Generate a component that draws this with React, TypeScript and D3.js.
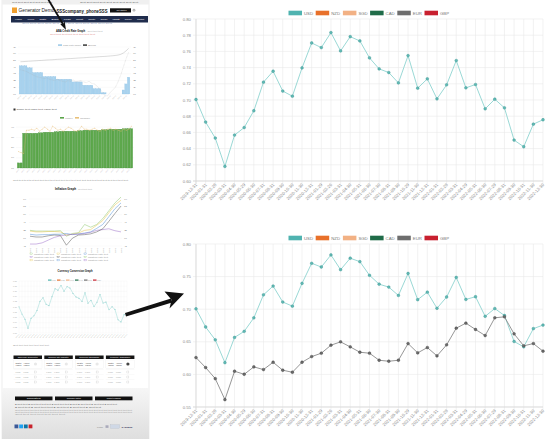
import React from "react";
import * as d3 from "d3";

const dates = [
  "2019-12-31","2020-01-31","2020-02-28","2020-03-31","2020-04-30","2020-05-29","2020-06-30",
  "2020-07-31","2020-08-31","2020-09-30","2020-10-30","2020-11-30","2020-12-31","2021-01-29",
  "2021-02-26","2021-03-31","2021-04-30","2021-05-31","2021-06-30","2021-07-30","2021-08-31",
  "2021-09-30","2021-10-29","2021-11-30","2021-12-31","2022-01-31","2022-02-28","2022-03-31",
  "2022-04-29","2022-05-31","2022-06-30","2022-07-29","2022-08-31","2022-09-30","2022-10-31",
  "2022-11-30","2022-12-30",
];
const usd = [
  0.7006,0.6727,0.653,0.618,0.6567,0.666,0.6867,0.722,0.7355,0.711,0.7047,0.7396,0.7704,
  0.7647,0.7832,0.7606,0.7782,0.7729,0.752,0.7384,0.7339,0.7211,0.7548,0.7146,0.7261,
  0.7014,0.7187,0.7487,0.715,0.7191,0.6891,0.701,0.6903,0.6505,0.6423,0.6702,0.6756,
];
const eur = [
  0.6258,0.6105,0.5935,0.5613,0.6048,0.6002,0.6115,0.6074,0.6186,0.6064,0.6033,0.6186,0.6273,
  0.6325,0.6448,0.6499,0.6422,0.634,0.6325,0.6217,0.6202,0.6217,0.6473,0.633,0.6412,
  0.6284,0.6453,0.6709,0.6786,0.6689,0.6596,0.6868,0.6883,0.6622,0.6438,0.6473,0.6356,
];
const legendLabels = ["USD", "NZD", "SGD", "CAD", "EUR", "GBP"];
const legendColors = ["#4fb3b0", "#e8702a", "#f2b184", "#1f6b48", "#6e6e6e", "#c8202f"];
const topTicks = [0.6, 0.62, 0.64, 0.66, 0.68, 0.7, 0.72, 0.74, 0.76, 0.78, 0.8];
const bottomTicks = [0.55, 0.6, 0.65, 0.7, 0.75, 0.8];

// thumbnail (web page screenshot) data
const abaBars = [4.2,4.2,4.2,3.9,3.9,3.2,3.2,3.2,3.2,2.6,2.6,2.6,2.6,2.6,2.2,2.2,2.2,2.2,2.2,2.2,1.8,1.8,1.8,1.8,1.3,1.3,1.3,1.3,0.8,0.8,0.8,0.2,0.2,0,0,0,0,0,0,0.6,1.5,2.5];
const abaLine = [4.8,4.82,4.85,4.88,4.9,4.93,4.95,4.98,5.0,5.03,5.06,5.08,5.1,5.13,5.16,5.18,5.2,5.23,5.26,5.28,5.3,5.33,5.36,5.38,5.4,5.43,5.46,5.48,5.5,5.53,5.56,5.58,5.6,5.63,5.66,5.7,5.74,5.8,5.9,6.1,6.4,6.8];
const abaLine2 = [3.6,3.5,3.4,3.2,3.0,2.8,2.6,2.5,2.4,2.3,2.4,2.2,2.1,2.0,2.2,2.0,1.9,1.8,2.0,1.9,2.1,1.8,1.9,2.0,1.8,1.7,1.9,1.6,1.5,1.2,0.8,0.3,-0.2,-0.3,0.2,0.6,1.0,1.8,2.8,4.0,5.2,6.2];
const greenBars = [5,5,34,34,34,34,34,34,34.5,34.5,35,35,35,35,35.5,35.5,36,36,36,36,36,36,36,36.5,36.5,37,37,37,37,37,37,37,37.5,37.5,37.5,38,38,38,38,38,38.5,38.5,38.5,38.5];
const yellowLine = [16,15,14,37,37,38,37,39,36,38,40,38,36,41,39,37,38,36,38,40,39,37,36,37,41,38,38,37,38,39,37,36,38,37,38,39,37,38,37,36,38,37,38,41];
const inflA = [2.0,1.8,1.8,1.8,1.8,1.9,0.5,1.2,1.4,3.5,2.8,3.5,5.0,7.0,9.0,10.5];
const inflB = [1.8,1.6,1.6,1.7,1.7,1.6,0.8,1.0,1.3,2.0,2.2,3.3,4.5,6.5,8.5,9.7];
const inflC = [1.0,0.8,0.9,0.9,1.0,1.0,1.2,0.9,1.1,1.3,1.6,2.5,3.5,5.5,7.5,9.0];
const inflD = [-1.5,-1.5,-1.2,-0.5,0.2,0.6,0.8,1.0,1.0,1.2,1.5,2.0,2.2,2.4,1.9,1.6];
const inflE = [0.5,0.3,0.3,0.6,0.8,0.7,-1.8,0.0,0.8,0.9,1.1,1.6,2.4,4.3,6.3,8.2];
const inflColors = ["#8cc66c", "#e7c54a", "#4f8fd6", "#9a6cc9", "#555555"];
const navItems = ["Home", "Auto Loan Calculator", "Rate", "Bank", "Loan", "Credit", "Calculator", "Compare", "Insights", "Currency", "Contact"];
const tableTitles = ["Currency Converter", "Exchange Rate Calculator", "Currency Exchange", "Money Transfer"];
const footerButtons = ["Calculators", "Compare Rates", "Request a Callback"];

const FONT = "'Liberation Sans', Arial, Helvetica, sans-serif";

function LineChart({ yDomain, yRange, ticks, series, legendY, labelY }) {
  const x = d3.scalePoint().domain(dates).range([196, 543]);
  const y = d3.scaleLinear().domain(yDomain).range(yRange);
  const line = d3.line().x((_, i) => x(dates[i])).y((d) => y(d));
  const [y0, y1] = yRange; // bottom, top
  const step = 27.2;
  const legW = step * (legendLabels.length - 1) + 26;
  const legX = (196 + 543) / 2 - legW / 2;
  return (
    <g fontFamily={FONT}>
      {legendLabels.map((l, i) => (
        <g key={l} transform={`translate(${legX + i * step},${legendY})`}>
          <rect x={0} y={-2.3} width={13.5} height={4.6} fill={legendColors[i]} />
          <text x={15.5} y={1.6} fontSize={4.3} fill="#777">{l}</text>
        </g>
      ))}
      {ticks.map((t) => (
        <g key={t}>
          <line x1={193} x2={543} y1={y(t)} y2={y(t)} stroke="#e9e9e9" strokeWidth={0.6} />
          <text x={191} y={y(t) + 1.5} fontSize={4.3} fill="#8a8a8a" textAnchor="end">{t.toFixed(2)}</text>
        </g>
      ))}
      {dates.map((d) => (
        <g key={d}>
          <line x1={x(d)} x2={x(d)} y1={y1} y2={y0 + 3} stroke="#e9e9e9" strokeWidth={0.6} />
          <text transform={`translate(${x(d) + 1.5},${labelY}) rotate(-45)`} fontSize={4.3} fill="#8a8a8a" textAnchor="end">{d}</text>
        </g>
      ))}
      <line x1={196} x2={196} y1={y1} y2={y0 + 3} stroke="#d4d4d4" strokeWidth={0.7} />
      <line x1={193} x2={543} y1={y0} y2={y0} stroke="#d4d4d4" strokeWidth={0.7} />
      {series.map((s) => (
        <g key={s.name}>
          <path d={line(s.values)} fill="none" stroke={s.line} strokeWidth={0.9} />
          {s.values.map((v, i) => (
            <circle key={i} cx={x(dates[i])} cy={y(v)} r={1.4} fill={s.point} stroke={s.stroke} strokeWidth={0.4} />
          ))}
        </g>
      ))}
    </g>
  );
}

function TinyText({ x, y, w, text, size = 2.2, fill = "#666", anchor = "start", weight = "normal" }) {
  return (
    <text x={x} y={y} fontSize={size} fill={fill} textAnchor={anchor} fontWeight={weight} textLength={w} lengthAdjust="spacingAndGlyphs">{text}</text>
  );
}

function Thumbnail() {
  // ABA chart
  const xa = d3.scaleBand().domain(d3.range(abaBars.length)).range([19, 130]).padding(0.08);
  const ya = d3.scaleLinear().domain([0, 7]).range([94, 47]);
  const la = d3.line().x((_, i) => xa(i) + xa.bandwidth() / 2).y((d) => ya(d));
  // green chart
  const xg = d3.scaleBand().domain(d3.range(greenBars.length)).range([17, 133]).padding(0.12);
  const yg = d3.scaleLinear().domain([0, 45]).range([168, 122]);
  const lg = d3.line().x((_, i) => xg(i) + xg.bandwidth() / 2).y((d) => yg(d));
  // inflation chart
  const xi = d3.scalePoint().domain(d3.range(inflA.length)).range([30, 121]);
  const yi = d3.scaleLinear().domain([-2, 10]).range([246, 199]);
  const li = d3.line().x((_, i) => xi(i)).y((d) => yi(d));
  // currency mini chart
  const xc = d3.scalePoint().domain(dates).range([19, 127]);
  const yc = d3.scaleLinear().domain([0.6, 0.8]).range([333, 281]);
  const lc = d3.line().x((_, i) => xc(dates[i])).y((d) => yc(d));

  const gridA = d3.range(0, 8);
  return (
    <g fontFamily={FONT}>
      <defs>
        <linearGradient id="foot" x1="0" x2="0" y1="0" y2="1">
          <stop offset="0" stopColor="#f6f6f6" />
          <stop offset="1" stopColor="#dedede" />
        </linearGradient>
      </defs>
      <rect x={2} y={0} width={147} height={439} fill="#fff" stroke="#e2e2e2" strokeWidth={0.6} />
      {/* top bar */}
      <rect x={2} y={0} width={147} height={4.5} fill="#f0f0f0" />
      <TinyText x={12} y={3} w={40} text="Text Text Text Text Text Text Text" fill="#555" />
      <TinyText x={80} y={3} w={58} text="Text Text Text Text Text Text Text Text Text" fill="#555" />
      {/* header */}
      <rect x={12} y={7.5} width={5} height={5.5} fill="#f0a030" />
      <TinyText x={18.5} y={12} w={36} size={5} fill="#222" text="Generator Demo" />
      <TinyText x={56.5} y={12.5} w={51} size={4.7} fill="#111" weight="bold" text="SSScompany_phoneSSS" />
      <rect x={110} y={8.3} width={21} height={4.2} fill="#111" />
      <TinyText x={121.5} y={11.2} w={10} text="Get Started" fill="#fff" anchor="middle" size={1.8} />
      <circle cx={134} cy={10.2} r={1} fill="none" stroke="#333" strokeWidth={0.4} />
      {/* nav */}
      <rect x={11} y={16} width={137} height={6.5} fill="#1f2c4c" />
      {navItems.map((n, i) => (
        <TinyText key={n} x={15 + i * 12.2} y={19.8} w={7} text={n} fill="#fff" size={1.6} />
      ))}
      <TinyText x={22} y={23.9} w={90} text="Text Text Text Text Text Text Text Text Text Text Text Text" fill="#8ea0c0" size={1.2} />
      {/* ABA title */}
      <TinyText x={56} y={32} w={29} size={3.4} fill="#111" weight="bold" text="ABA Credit Rate Graph" />
      <TinyText x={87.5} y={32} w={15} text="Text text text" fill="#aaa" size={1.6} />
      <TinyText x={50} y={34.8} w={45} text="Text text text text text text text text" fill="#d88" size={1.2} />
      {/* ABA legend */}
      <rect x={58} y={44.3} width={4} height={1.6} fill="#9ecae8" />
      <TinyText x={63} y={46} w={18} text="Cash Rate Target" fill="#999" size={1.6} />
      <rect x={83} y={44.3} width={4} height={1.6} fill="#444" />
      <TinyText x={88} y={46} w={8} text="Bond" fill="#999" size={1.6} />
      {gridA.map((g) => (
        <g key={g}>
          <line x1={18} x2={131} y1={ya(g)} y2={ya(g)} stroke="#eee" strokeWidth={0.3} />
          <TinyText x={16} y={ya(g) + 0.6} w={3} text={String(g)} fill="#999" size={1.6} anchor="end" />
          <TinyText x={133} y={ya(g) + 0.6} w={3} text={String(g)} fill="#999" size={1.6} />
        </g>
      ))}
      {abaBars.map((v, i) => (
        <rect key={i} x={xa(i)} y={ya(Math.max(v, 0))} width={xa.bandwidth()} height={94 - ya(Math.max(v, 0))} fill="#a8d2ee" stroke="#7fb7de" strokeWidth={0.2} />
      ))}
      <path d={la(abaLine)} fill="none" stroke="#888" strokeWidth={0.3} />
      <path d={la(abaLine2)} fill="none" stroke="#aaa" strokeWidth={0.3} strokeDasharray="0.8 0.6" />
      {abaBars.map((_, i) => i % 2 === 0 ? (
        <g key={i} transform={`translate(${xa(i) + 2},${96}) rotate(-45)`}>
          <TinyText x={0} y={0} w={5} text="2020-01" fill="#aaa" size={1.3} anchor="end" />
        </g>
      ) : null)}
      {/* text line 1 */}
      <rect x={13.5} y={108.5} width={2} height={2} fill="#333" />
      <TinyText x={16.5} y={110.4} w={40} text="Some text value text value text" fill="#444" size={1.8} />
      {/* green chart */}
      <rect x={60} y={117} width={4} height={1.6} fill="#5aa54a" />
      <TinyText x={65} y={118.7} w={8} text="Index" fill="#999" size={1.6} />
      <rect x={75} y={117} width={4} height={1.6} fill="#e8c07a" />
      <TinyText x={80} y={118.7} w={10} text="Change" fill="#999" size={1.6} />
      {[0, 10, 20, 30, 40].map((g) => (
        <g key={g}>
          <line x1={16} x2={134} y1={yg(g)} y2={yg(g)} stroke="#eee" strokeWidth={0.3} />
          <TinyText x={14} y={yg(g) + 0.6} w={3} text={String(g)} fill="#999" size={1.6} anchor="end" />
        </g>
      ))}
      {greenBars.map((v, i) => (
        <rect key={i} x={xg(i)} y={yg(v)} width={xg.bandwidth()} height={168 - yg(v)} fill="#5da84c" stroke="#3e8a33" strokeWidth={0.25} />
      ))}
      <path d={lg(yellowLine)} fill="none" stroke="#e8b96a" strokeWidth={0.3} />
      {yellowLine.map((v, i) => (
        <circle key={i} cx={xg(i) + xg.bandwidth() / 2} cy={yg(v)} r={0.4} fill="#e8b96a" />
      ))}
      {greenBars.map((_, i) => i % 2 === 0 ? (
        <g key={i} transform={`translate(${xg(i) + 2},${170}) rotate(-45)`}>
          <TinyText x={0} y={0} w={4} text="2020-01" fill="#aaa" size={1.3} anchor="end" />
        </g>
      ) : null)}
      <TinyText x={13} y={180.5} w={115} text="Text text text text text text text text text text text text text text text text text text text text text text" fill="#888" size={1.6} />
      {/* inflation */}
      <TinyText x={55} y={190} w={21} size={3} fill="#111" weight="bold" text="Inflation Graph" />
      <TinyText x={78} y={190} w={14} text="Text text text" fill="#aaa" size={1.6} />
      {[-2, 0, 2, 4, 6, 8, 10].map((g) => (
        <g key={g}>
          <line x1={29} x2={122} y1={yi(g)} y2={yi(g)} stroke="#eee" strokeWidth={0.3} />
          <TinyText x={26} y={yi(g) + 0.6} w={3} text={String(g)} fill="#999" size={1.6} anchor="end" />
          <TinyText x={124} y={yi(g) + 0.6} w={3} text={String(g)} fill="#999" size={1.6} />
        </g>
      ))}
      {[inflA, inflB, inflC, inflD, inflE].map((s, k) => (
        <path key={k} d={li(s)} fill="none" stroke={inflColors[k]} strokeWidth={0.5} />
      ))}
      {inflA.map((_, i) => (
        <g key={i} transform={`translate(${xi(i) + 1},${248}) rotate(-90)`}>
          <TinyText x={0} y={0} w={5} text="2020-01" fill="#aaa" size={1.3} anchor="end" />
        </g>
      ))}
      {[0, 1, 2].map((r) => [0, 1, 2].map((c) => (
        <g key={`${r}-${c}`}>
          <rect x={30 + c * 27} y={253 + r * 3.2} width={2.5} height={1.5} fill="none" stroke={inflColors[(r * 3 + c) % 5]} strokeWidth={0.3} />
          <TinyText x={34 + c * 27} y={254.5 + r * 3.2} w={20} text="Inflation rate text" fill="#999" size={1.4} />
        </g>
      )))}
      {/* currency conversion */}
      <TinyText x={75} y={272} w={35} size={3} fill="#111" weight="bold" anchor="middle" text="Currency Conversion Graph" />
      {legendLabels.map((l, i) => (
        <g key={l}>
          <rect x={48 + i * 9} y={279.5} width={3.5} height={1.3} fill={legendColors[i]} />
          <TinyText x={52 + i * 9} y={281} w={4} text={l} fill="#aaa" size={1.3} />
        </g>
      ))}
      {[0.6, 0.62, 0.64, 0.66, 0.68, 0.7, 0.72, 0.74, 0.76, 0.78, 0.8].map((t) => (
        <g key={t}>
          <line x1={19} x2={127} y1={yc(t)} y2={yc(t)} stroke="#f0f0f0" strokeWidth={0.3} />
          <TinyText x={17} y={yc(t) + 0.5} w={4} text={t.toFixed(2)} fill="#aaa" size={1.3} anchor="end" />
        </g>
      ))}
      {dates.map((d) => (
        <g key={d}>
          <line x1={xc(d)} x2={xc(d)} y1={281} y2={333} stroke="#f0f0f0" strokeWidth={0.3} />
          <g transform={`translate(${xc(d) + 0.5},${334.5}) rotate(-45)`}>
            <TinyText x={0} y={0} w={5} text={d} fill="#aaa" size={1.2} anchor="end" />
          </g>
        </g>
      ))}
      <path d={lc(usd)} fill="none" stroke="#7fcfcb" strokeWidth={0.4} />
      {usd.map((v, i) => (
        <circle key={i} cx={xc(dates[i])} cy={yc(v)} r={0.45} fill="#4fb3b0" />
      ))}
      <TinyText x={13} y={345.5} w={36} text="Text text text text text text text" fill="#888" size={1.5} />
      {/* tables */}
      {tableTitles.map((t, k) => {
        const tx = 13.5 + k * 30.8;
        return (
          <g key={t}>
            <rect x={tx} y={355.5} width={28.5} height={3.5} fill="#151515" />
            <TinyText x={tx + 14.2} y={358} w={20} text={t} fill="#fff" size={1.5} anchor="middle" />
            <rect x={tx} y={360} width={28.5} height={8.5} fill="#fff" stroke="#ddd" strokeWidth={0.2} />
            <TinyText x={tx + 2} y={363.5} w={6} text="Rate" fill="#444" size={1.5} />
            <TinyText x={tx + 2} y={365.5} w={6} text="Value" fill="#444" size={1.5} />
            <TinyText x={tx + 10} y={363.5} w={6} text="Amount" fill="#444" size={1.5} />
            <TinyText x={tx + 10} y={365.5} w={6} text="Value" fill="#444" size={1.5} />
            <circle cx={tx + 22} cy={364} r={1.6} fill={k === 3 ? "#444" : "#e8e8e8"} />
            {[0, 1, 2].map((r) => (
              <g key={r}>
                <line x1={tx} x2={tx + 28.5} y1={369.5 + r * 5} y2={369.5 + r * 5} stroke="#eee" strokeWidth={0.3} />
                <TinyText x={tx + 2} y={372.5 + r * 5} w={5} text="1.0000" fill="#999" size={1.3} />
                <TinyText x={tx + 10} y={372.5 + r * 5} w={5} text="0.7000" fill="#999" size={1.3} />
                <rect x={tx + 21} y={371 + r * 5} width={2} height={2} fill="none" stroke="#bbb" strokeWidth={0.25} />
              </g>
            ))}
          </g>
        );
      })}
      {/* footer */}
      <rect x={2} y={388} width={147} height={51} fill="url(#foot)" />
      {footerButtons.map((b, k) => (
        <g key={b}>
          <rect x={15 + k * 40} y={396.5} width={37.5} height={3.8} fill="#111" />
          <TinyText x={33.75 + k * 40} y={399.2} w={14} text={b} fill="#fff" size={1.5} anchor="middle" />
        </g>
      ))}
      <TinyText x={15} y={404.5} w={102} text="■ Text text ■ Text text text text ■ Text text text ■ Text ■ Text text ■ Text text ■ Text text" fill="#666" size={1.4} />
      <TinyText x={15} y={407.5} w={86} text="■ Text text ■ Text text text ■ Text text ■ Text text ■ Text text" fill="#666" size={1.4} />
      <TinyText x={15} y={411} w={117} text="Text text text text text text text text text text text text text text text text text text text text text text text text" fill="#999" size={1.2} />
      <TinyText x={15} y={412.8} w={117} text="Text text text text text text text text text text text text text text text text text text text text text text text text" fill="#999" size={1.2} />
      <TinyText x={15} y={414.6} w={50} text="Text text text text text text text" fill="#999" size={1.2} />
      {["#3b5998", "#1da1f2", "#0e76a8", "#c8232c"].map((c, k) => (
        <rect key={c} x={14.5 + k * 4.7} y={424.5} width={3.8} height={3.8} fill={c} />
      ))}
      <TinyText x={97} y={427.5} w={6} text="Logo" fill="#888" size={1.6} />
      <rect x={105.5} y={425.3} width={3} height={2.6} fill="#aab" />
      <rect x={110.5} y={424.8} width={9} height={3.5} fill="#cfd8e6" stroke="#9ab" strokeWidth={0.2} />
      <TinyText x={121.5} y={427.7} w={11} text="Logo" fill="#446" size={2} weight="bold" />
    </g>
  );
}

function Arrows() {
  return (
    <g>
      {/* small arrow at top */}
      <line x1={48} y1={-1} x2={63.5} y2={25} stroke="#111" strokeWidth={1.8} />
      <path d="M 66,30 L 60.3,24.2 L 63.8,23.6 L 64.5,20.6 Z" fill="#111" />
      {/* big arrow */}
      <path d="M 125,313 L 171,298.5 L 172,302.5 L 126,316.5 Z" fill="#111" />
      <path d="M 184,293.5 L 164.5,291.5 L 171.5,299.8 L 169.5,308.5 Z" fill="#111" />
    </g>
  );
}

export default function App() {
  return (
    <svg width={560} height={439} viewBox="0 0 560 439" style={{ position: "absolute", left: 0, top: 0, background: "#fff" }}>
      <rect width={560} height={439} fill="#fff" />
      <Thumbnail />
      <LineChart
        yDomain={[0.6, 0.8]}
        yRange={[181, 19]}
        ticks={topTicks}
        legendY={13}
        labelY={185}
        series={[{ name: "USD", values: usd, line: "#8fd4d0", point: "#5fb9b4", stroke: "#3f9692" }]}
      />
      <LineChart
        yDomain={[0.55, 0.8]}
        yRange={[407, 244]}
        ticks={bottomTicks}
        legendY={238}
        labelY={411}
        series={[
          { name: "USD", values: usd, line: "#8fd4d0", point: "#5fb9b4", stroke: "#3f9692" },
          { name: "EUR", values: eur, line: "#8a8a8a", point: "#6a6a6a", stroke: "#444" },
        ]}
      />
      <Arrows />
    </svg>
  );
}
